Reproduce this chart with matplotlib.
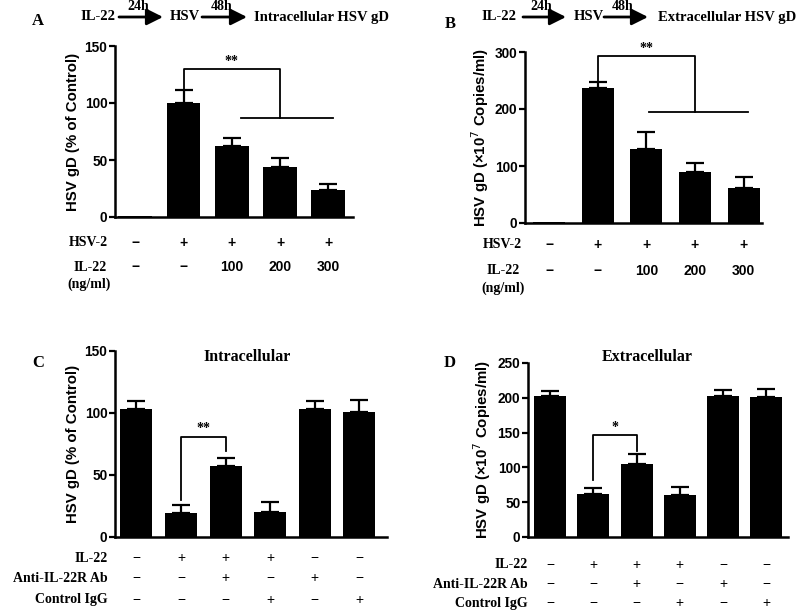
import matplotlib
matplotlib.use("Agg")
import matplotlib.pyplot as plt
from matplotlib.transforms import blended_transform_factory
import numpy as np

# ---------------- data ----------------
a_vals = [0.5, 100, 62, 44, 24]
a_err = [0, 11, 7, 8, 5]
a_hsv2 = ["\u2212", "+", "+", "+", "+"]
a_il22 = ["\u2212", "\u2212", "100", "200", "300"]

b_vals = [1, 236, 129, 89, 62]
b_err = [0, 11, 30, 16, 18]
b_hsv2 = ["\u2212", "+", "+", "+", "+"]
b_il22 = ["\u2212", "\u2212", "100", "200", "300"]

c_vals = [103, 19, 57, 20.5, 103, 101]
c_err = [7, 6.5, 7, 8, 7, 9.5]
d_vals = [202, 62, 105, 61, 202, 201]
d_err = [8, 8, 14, 11.5, 8.5, 11]
cd_il22 = ["\u2212", "+", "+", "+", "\u2212", "\u2212"]
cd_anti = ["\u2212", "\u2212", "+", "\u2212", "+", "\u2212"]
cd_igg = ["\u2212", "\u2212", "\u2212", "+", "\u2212", "+"]

W, H = 800, 611
fig = plt.figure(figsize=(8, 6.11), dpi=100)

SANS = "Liberation Sans"
SERIF = "Liberation Serif"


def rect(left, right, top, bottom):
    return [left / W, 1 - bottom / H, (right - left) / W, (bottom - top) / H]


def fy(y):
    return 1 - y / H


def fx(x):
    return x / W


def make_panel(r, vals, err, ylim, yticks, xlim, width, ylabel):
    ax = fig.add_axes(r)
    x = np.arange(len(vals))
    ax.bar(x, vals, width=width, color="black", zorder=2)
    lo = np.zeros(len(vals))
    e = np.array(err, dtype=float)
    mask = e > 0
    ax.errorbar(x[mask], np.array(vals)[mask], yerr=[lo[mask], e[mask]], fmt="none",
                ecolor="black", elinewidth=1.6, capsize=6.5, capthick=1.6, zorder=1)
    ax.set_xlim(*xlim)
    ax.set_ylim(*ylim)
    ax.set_yticks(yticks)
    ax.set_xticks([])
    for s in ["top", "right"]:
        ax.spines[s].set_visible(False)
    for s in ["left", "bottom"]:
        ax.spines[s].set_linewidth(1.8)
    ax.tick_params(axis="y", width=1.6, length=4, pad=1.5, labelsize=9.8)
    for lab in ax.get_yticklabels():
        lab.set_fontfamily(SANS)
        lab.set_fontweight("bold")
    ax.set_ylabel(ylabel, fontsize=10.8, fontweight="bold", family=SANS, labelpad=3)
    ax.patch.set_alpha(0)
    return ax


def bracket(ax, x1, x2, ytop, y1, y2, star, star_dy):
    ax.plot([x1, x1, x2, x2], [y1, ytop, ytop, y2], color="black", lw=1.3, clip_on=False)
    ax.text((x1 + x2) / 2, ytop + star_dy, star, ha="center", va="bottom",
            fontsize=10, family=SERIF, fontweight="bold")


def letter(l, x, y):
    fig.text(fx(x), fy(y), l, fontsize=12, family=SERIF, fontweight="bold",
             ha="center", va="center")


def flow(y, a1, a2, items):
    for txt, x0 in items:
        fig.text(fx(x0), fy(y), txt, fontsize=10.5, family=SERIF,
                 fontweight="bold", ha="left", va="center")
    for (xs, xe), lab in zip([a1, a2], ["24h", "48h"]):
        fig.add_artist(matplotlib.patches.FancyArrowPatch(
            (fx(xs), fy(y)), (fx(xe), fy(y)), transform=fig.transFigure,
            arrowstyle="-|>,head_length=0.7,head_width=0.35", lw=2.0, color="black",
            mutation_scale=14, shrinkA=0, shrinkB=0))
        fig.text(fx((xs + xe) / 2 - 3), fy(y - 4), lab, fontsize=10, family=SERIF,
                 fontweight="bold", ha="center", va="bottom")


# ---------------- Panel A ----------------
axA = make_panel(rect(115, 353, 46, 217), a_vals, a_err, (0, 150), [0, 50, 100, 150],
                 (-0.42, 4.51), 0.7, "HSV gD (% of Control)")
bracket(axA, 1, 3, 130, 111, 87, "**", 1)
axA.plot([2.2, 4.1], [87, 87], color="black", lw=1.3)
trA = blended_transform_factory(axA.transData, fig.transFigure)
for i, (h, il) in enumerate(zip(a_hsv2, a_il22)):
    axA.text(i, fy(243), h, transform=trA, ha="center", va="center", fontsize=10,
             family=SANS, fontweight="bold")
    axA.text(i, fy(267), il, transform=trA, ha="center", va="center", fontsize=10,
             family=SANS, fontweight="bold")
fig.text(fx(108), fy(243), "HSV-2", ha="right", va="center", fontsize=10, family=SERIF, fontweight="bold")
fig.text(fx(90), fy(267), "IL-22", ha="center", va="center", fontsize=10, family=SERIF, fontweight="bold")
fig.text(fx(89), fy(284), "(ng/ml)", ha="center", va="center", fontsize=10, family=SERIF, fontweight="bold")
letter("A", 38, 21)
flow(17, (119, 163), (202, 247), [("IL-22", 80), ("HSV", 170), ("Intracellular HSV gD", 254)])

# ---------------- Panel B ----------------
axB = make_panel(rect(525, 762, 52, 223), b_vals, b_err, (0, 300), [0, 100, 200, 300],
                 (-0.5, 4.38), 0.66, "HSV gD (\u00d710$^{7}$ Copies/ml)")
bracket(axB, 1, 3, 293, 248, 195, "**", 2)
axB.plot([2.05, 4.1], [195, 195], color="black", lw=1.3)
trB = blended_transform_factory(axB.transData, fig.transFigure)
for i, (h, il) in enumerate(zip(b_hsv2, b_il22)):
    axB.text(i, fy(245), h, transform=trB, ha="center", va="center", fontsize=10,
             family=SANS, fontweight="bold")
    axB.text(i, fy(271), il, transform=trB, ha="center", va="center", fontsize=10,
             family=SANS, fontweight="bold")
fig.text(fx(522), fy(245), "HSV-2", ha="right", va="center", fontsize=10, family=SERIF, fontweight="bold")
fig.text(fx(503), fy(271), "IL-22", ha="center", va="center", fontsize=10, family=SERIF, fontweight="bold")
fig.text(fx(503), fy(288), "(ng/ml)", ha="center", va="center", fontsize=10, family=SERIF, fontweight="bold")
letter("B", 450, 24)
flow(17, (523, 566), (604, 648), [("IL-22", 481), ("HSV", 574), ("Extracellular HSV gD", 658)])

# ---------------- Panel C ----------------
axC = make_panel(rect(115, 387, 351, 537), c_vals, c_err, (0, 150), [0, 50, 100, 150],
                 (-0.48, 5.62), 0.72, "HSV gD (% of Control)")
bracket(axC, 1, 2, 81, 30, 69, "**", 1)
fig.text(fx(247), fy(357), "Intracellular", ha="center", va="center",
         fontsize=11.5, family=SERIF, fontweight="bold")
trC = blended_transform_factory(axC.transData, fig.transFigure)
for i, (a, b, c) in enumerate(zip(cd_il22, cd_anti, cd_igg)):
    for yy, t in zip([558, 578, 600], [a, b, c]):
        axC.text(i, fy(yy), t, transform=trC, ha="center", va="center", fontsize=10,
                 family=SANS)
for yy, t in zip([558, 578, 600], ["IL-22", "Anti-IL-22R Ab", "Control IgG"]):
    fig.text(fx(108), fy(yy), t, ha="right", va="center", fontsize=10, family=SERIF, fontweight="bold")
letter("C", 38, 363)

# ---------------- Panel D ----------------
axD = make_panel(rect(528, 788, 363, 537), d_vals, d_err, (0, 250), [0, 50, 100, 150, 200, 250],
                 (-0.51, 5.5), 0.74, "HSV gD (\u00d710$^{7}$ Copies/ml)")
bracket(axD, 1, 2, 147, 82, 123, "*", 1)
fig.text(fx(647), fy(357), "Extracellular", ha="center", va="center",
         fontsize=11.5, family=SERIF, fontweight="bold")
trD = blended_transform_factory(axD.transData, fig.transFigure)
for i, (a, b, c) in enumerate(zip(cd_il22, cd_anti, cd_igg)):
    for yy, t in zip([565, 584, 603], [a, b, c]):
        axD.text(i, fy(yy), t, transform=trD, ha="center", va="center", fontsize=10,
                 family=SANS)
for yy, t in zip([565, 584, 603], ["IL-22", "Anti-IL-22R Ab", "Control IgG"]):
    fig.text(fx(528), fy(yy), t, ha="right", va="center", fontsize=10, family=SERIF, fontweight="bold")
letter("D", 450, 363)

fig.savefig("out.png", dpi=100)
